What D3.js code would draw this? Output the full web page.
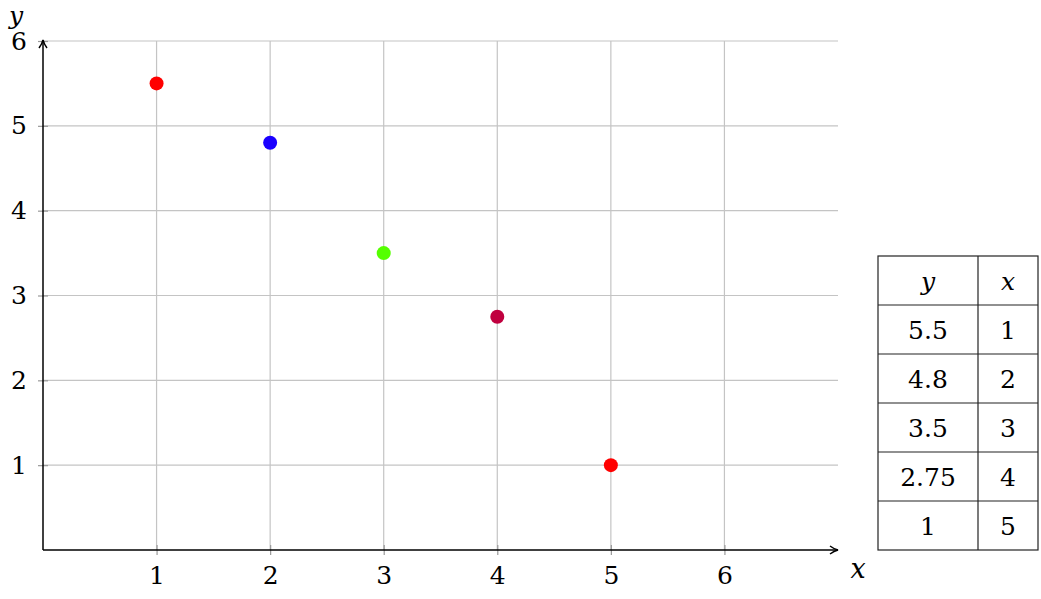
<!DOCTYPE html>
<html>
<head>
<meta charset="utf-8">
<script src="https://cdn.jsdelivr.net/npm/d3@7"></script>
<style>
  body { margin: 0; background: #fff; }
  svg text { font-family: "DejaVu Serif", "Liberation Serif", serif; }
</style>
</head>
<body>
<svg id="chart" width="1041" height="599"></svg>
<script>
// data
const xVals = [1, 2, 3, 4, 5];
const yVals = [5.5, 4.8, 3.5, 2.75, 1];
const dotColors = ["#ff0000", "#1a00ff", "#55ff00", "#c0003f", "#ff0000"];
const xTicks = [1, 2, 3, 4, 5, 6];
const yTicks = [1, 2, 3, 4, 5, 6];
const tableHead = ["y", "x"];
const tableRows = ["5.5", "4.8", "3.5", "2.75", "1"].map((y, i) => [y, String(xVals[i])]);

const svg = d3.select("#chart");
const x0 = 43, x1 = 838, y0 = 550, y1 = 41;
const serif = '"DejaVu Serif", "Liberation Serif", serif';

var xScale = d3.scaleLinear().domain([0, 7]).range([x0, x1]);
var yScale = d3.scaleLinear().domain([0, 6]).range([y0, y1]);

// grid
svg.append("g").selectAll("line").data(xTicks).join("line")
  .attr("x1", d => xScale(d)).attr("x2", d => xScale(d))
  .attr("y1", y0).attr("y2", y1)
  .attr("stroke", "#c4c4c4").attr("stroke-width", 1.2);
svg.append("g").selectAll("line").data(yTicks).join("line")
  .attr("y1", d => yScale(d)).attr("y2", d => yScale(d))
  .attr("x1", x0).attr("x2", x1)
  .attr("stroke", "#c4c4c4").attr("stroke-width", 1.2);

// axes with tick labels
const xAxis = svg.append("g").attr("transform", "translate(0," + y0 + ")")
  .call(d3.axisBottom(xScale).tickValues(xTicks).tickFormat(d3.format("d")).tickSize(5).tickPadding(11).tickSizeOuter(0));
const yAxis = svg.append("g").attr("transform", "translate(" + x0 + ",0)")
  .call(d3.axisLeft(yScale).tickValues(yTicks).tickFormat(d3.format("d")).tickSize(5).tickPadding(11).tickSizeOuter(0));
[xAxis, yAxis].forEach(g => {
  g.attr("font-family", serif);
  g.select(".domain").remove();
  g.selectAll(".tick line").attr("stroke", "#999").attr("stroke-width", 1.2)
    .attr(g === xAxis ? "y1" : "x1", g === xAxis ? -5 : 5);
  g.selectAll(".tick text").attr("font-size", 25).attr("fill", "#000");
});
xAxis.selectAll(".tick text").attr("dy", "0.71em");

// axis lines with arrows
svg.append("defs").append("marker")
  .attr("id", "arr").attr("viewBox", "0 0 10 10").attr("refX", 9).attr("refY", 5)
  .attr("markerWidth", 10).attr("markerHeight", 10).attr("markerUnits", "userSpaceOnUse")
  .attr("orient", "auto")
  .append("path").attr("d", "M1,1 Q5,4 9,5 Q5,6 1,9").attr("fill", "none")
  .attr("stroke", "#000").attr("stroke-width", 1.5);
svg.append("line").attr("x1", x0).attr("y1", y0).attr("x2", x1).attr("y2", y0)
  .attr("stroke", "#000").attr("stroke-width", 1.5).attr("marker-end", "url(#arr)");
svg.append("line").attr("x1", x0).attr("y1", y0).attr("x2", x0).attr("y2", y1 - 1)
  .attr("stroke", "#000").attr("stroke-width", 1.5).attr("marker-end", "url(#arr)");

// axis labels
svg.append("text").attr("x", 16).attr("y", 24).attr("text-anchor", "middle")
  .attr("font-size", 25).attr("font-style", "italic").text("y");
svg.append("text").attr("x", 858).attr("y", 578).attr("text-anchor", "middle")
  .attr("font-size", 27).attr("font-style", "italic").text("x");

// points
svg.append("g").selectAll("circle").data(xVals).join("circle")
  .attr("cx", d => xScale(d)).attr("cy", (d, i) => yScale(yVals[i]))
  .attr("r", 7).attr("fill", (d, i) => dotColors[i]);

// table
const tx = [878, 978, 1038];
const rowH = 49, ty = 256;
const allRows = [tableHead].concat(tableRows);
const tbl = svg.append("g");
tbl.append("rect").attr("x", tx[0]).attr("y", ty).attr("width", tx[2] - tx[0])
  .attr("height", rowH * allRows.length).attr("fill", "none").attr("stroke", "#222").attr("stroke-width", 1.2);
tbl.selectAll("line.r").data(d3.range(1, allRows.length)).join("line")
  .attr("x1", tx[0]).attr("x2", tx[2]).attr("y1", d => ty + d * rowH).attr("y2", d => ty + d * rowH)
  .attr("stroke", "#222").attr("stroke-width", 1.2);
tbl.append("line").attr("x1", tx[1]).attr("x2", tx[1]).attr("y1", ty).attr("y2", ty + rowH * allRows.length)
  .attr("stroke", "#222").attr("stroke-width", 1.2);
allRows.forEach((row, r) => {
  row.forEach((v, c) => {
    tbl.append("text")
      .attr("x", (tx[c] + tx[c + 1]) / 2)
      .attr("y", ty + r * rowH + rowH / 2 + 9)
      .attr("text-anchor", "middle").attr("font-size", 25)
      .attr("font-style", r === 0 ? "italic" : "normal")
      .text(v);
  });
});
</script>
</body>
</html>
